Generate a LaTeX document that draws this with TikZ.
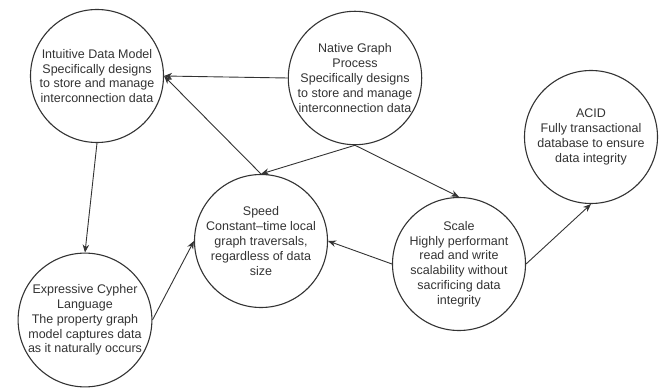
\documentclass[tikz,border=0pt]{standalone}
\usepackage{fontspec}
\setmainfont{Liberation Sans}
\usetikzlibrary{arrows.meta}
\definecolor{ink}{HTML}{333333}
\begin{document}
\begin{tikzpicture}[x=1pt,y=-1pt,
  topic/.style={circle,draw=ink,line width=1.1pt,minimum size=133pt,inner sep=0pt,
    align=center,text=ink,font=\fontsize{12.5}{14.8}\selectfont},
  link/.style={draw=ink,line width=0.9pt,-{Stealth[length=8pt,width=6.5pt]}}]
\useasboundingbox (0,0) rectangle (661,390);

\node[topic] (model)  at (97,76)  {Intuitive Data Model\\Specifically designs\\to store and manage\\interconnection data};
\node[topic] (native) at (355,78) {Native Graph\\Process\\Specifically designs\\to store and manage\\interconnection data};
\node[topic] (acid)   at (591,137) {ACID\\Fully transactional\\database to ensure\\data integrity};
\node[topic] (speed)  at (261,241) {Speed\\Constant–time local\\graph traversals,\\regardless of data\\size};
\node[topic] (cypher) at (85,320) {Expressive Cypher\\Language\\The property graph\\model captures data\\as it naturally occurs};
\node[topic] (scale)  at (459,264) {Scale\\Highly performant\\read and write\\scalability without\\sacrificing data\\integrity};

\draw[link] (native.west)  -- (model.east);
\draw[link] (speed.north)  -- (model.east);
\draw[link] (native.south) -- (speed.north);
\draw[link] (native.south) -- (scale.north);
\draw[link] (scale.west)   -- (speed.east);
\draw[link] (scale.east)   -- (acid.south);
\draw[link] (model.south)  -- (cypher.north);
\draw[link] (cypher.east)  -- (speed.west);
\end{tikzpicture}
\end{document}
